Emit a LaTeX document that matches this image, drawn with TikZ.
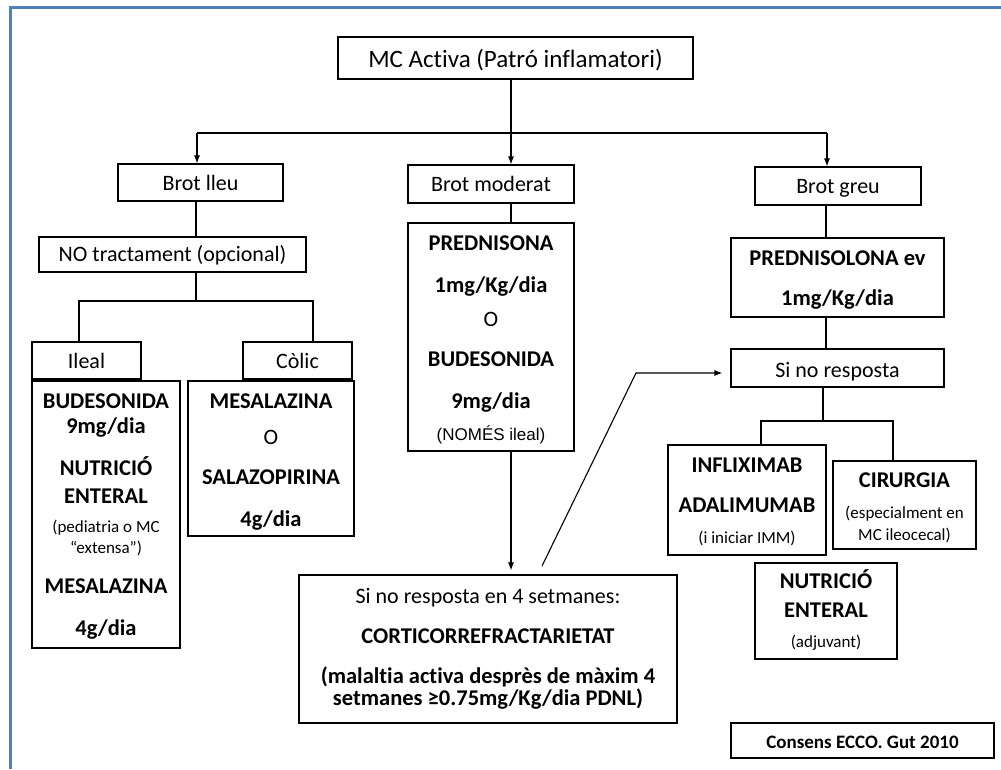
\documentclass[tikz,border=0pt]{standalone}
\usepackage{fontspec}
\setmainfont{Carlito}[Ligatures=NoCommon]
\newfontfamily\arialfont{Liberation Sans}
\usetikzlibrary{arrows.meta,calc}
\definecolor{frameblue}{RGB}{79,129,189}
\newcommand\rgf{\fontsize{22}{26}\selectfont}
\newcommand\ttl{\fontsize{25}{29}\selectfont}
\newcommand\bff{\fontsize{22.5}{27}\selectfont\bfseries}
\newcommand\smf{\fontsize{17}{20}\selectfont}
\begin{document}
\begin{tikzpicture}[x=1pt,y=-1pt,
  box/.style={draw, line width=1.1pt, inner sep=0pt},
  txt/.style={anchor=base, inner sep=0pt},
  conn/.style={line width=1.1pt},
  arr/.style={conn, -{Latex[length=8pt,width=6pt]}}]
\useasboundingbox (0,0) rectangle (1001,769);
\fill[white] (0,0) rectangle (1001,769);
\draw[frameblue, line width=3pt] (1001,7) -- (10,7) -- (10,769);

% boxes
\node[box, minimum width=355, minimum height=42] (top) at (515.5,58) {};
\node[box, minimum width=165, minimum height=37] (lleu) at (200.5,182.5) {};
\node[box, minimum width=166, minimum height=38] (mod) at (491,184) {};
\node[box, minimum width=166, minimum height=38] (greu) at (838,186) {};
\node[box, minimum width=267, minimum height=35] (no) at (172.5,254.5) {};
\node[box, minimum width=109, minimum height=37] (ileal) at (86.5,360.5) {};
\node[box, minimum width=109, minimum height=37] (colic) at (297.5,360.5) {};
\node[box, minimum width=148, minimum height=267] (budL) at (106,514.5) {};
\node[box, minimum width=166, minimum height=155] (mesa) at (271,458.5) {};
\node[box, minimum width=166, minimum height=228] (pred) at (491,337) {};
\node[box, minimum width=213, minimum height=79] (predl) at (837.5,277.5) {};
\node[box, minimum width=213, minimum height=38] (si) at (837.5,368) {};
\node[box, minimum width=158, minimum height=110] (inf) at (747,500) {};
\node[box, minimum width=143, minimum height=88] (cir) at (904.5,505) {};
\node[box, minimum width=142, minimum height=96] (nut) at (826,611) {};
\node[box, minimum width=378, minimum height=148] (bot) at (488,649) {};
\node[box, minimum width=263, minimum height=35] (foot) at (862.5,740.5) {};

% texts
\node[txt] (t0) at (515.5,67) {\ttl MC Activa (Patró inflamatori)};
\node[txt] (t1) at (200.5,190) {\rgf Brot lleu};
\node[txt] (t2) at (491,191) {\rgf Brot moderat};
\node[txt] (t3) at (838,193) {\rgf Brot greu};
\node[txt] (t4) at (172.5,261) {\rgf NO tractament (opcional)};
\node[txt] (t5) at (86.5,368) {\rgf Ileal};
\node[txt] (t6) at (297.5,368) {\rgf Còlic};

\node[txt] (l1) at (106,408) {\bff BUDESONIDA};
\node[txt] (l2) at (106,433) {\bff 9mg/dia};
\node[txt] (l3) at (106,475) {\bff NUTRICIÓ};
\node[txt] (l4) at (106,503) {\bff ENTERAL};
\node[txt] (l5) at (106,532) {\smf (pediatria o MC};
\node[txt] (l6) at (106,553) {\smf “extensa”)};
\node[txt] (l7) at (106,593) {\bff MESALAZINA};
\node[txt] (l8) at (106,635) {\bff 4g/dia};

\node[txt] (m1) at (271,408) {\bff MESALAZINA};
\node[txt] (m2) at (271,444) {\rgf O};
\node[txt] (m3) at (271,484) {\bff SALAZOPIRINA};
\node[txt] (m4) at (271,526) {\bff 4g/dia};

\node[txt] (p1) at (491,250) {\bff PREDNISONA};
\node[txt] (p2) at (491,292) {\bff 1mg/Kg/dia};
\node[txt] (p3) at (491,326) {\rgf O};
\node[txt] (p4) at (491,366) {\bff BUDESONIDA};
\node[txt] (p5) at (491,408) {\bff 9mg/dia};
\node[txt] (p6) at (491,440) {\arialfont\fontsize{17}{20}\selectfont (NOMÉS ileal)};

\node[txt] (r1) at (837.5,265) {\bff PREDNISOLONA ev};
\node[txt] (r2) at (837.5,305) {\bff 1mg/Kg/dia};
\node[txt] (r3) at (837.5,377) {\rgf Si no resposta};

\node[txt] (i1) at (747,472) {\bff INFLIXIMAB};
\node[txt] (i2) at (747,512) {\bff ADALIMUMAB};
\node[txt] (i3) at (747,543) {\smf (i iniciar IMM)};
\node[txt] (c1) at (904.5,487) {\bff CIRURGIA};
\node[txt] (c2) at (904.5,518) {\smf (especialment en};
\node[txt] (c3) at (904.5,540) {\smf MC ileocecal)};
\node[txt] (n1) at (826,588) {\bff NUTRICIÓ};
\node[txt] (n2) at (826,617) {\bff ENTERAL};
\node[txt] (n3) at (826,647) {\smf (adjuvant)};

\node[txt] (b1) at (488,603) {\rgf Si no resposta en 4 setmanes:};
\node[txt] (b2) at (488,643) {\bff CORTICORREFRACTARIETAT};
\node[txt] (b3) at (488,683) {\bff (malaltia activa desprès de màxim 4};
\node[txt] (b4) at (488,705) {\bff setmanes ≥0.75mg/Kg/dia PDNL)};

\node[txt] (f1) at (862.5,748) {\fontsize{19}{22}\selectfont\bfseries Consens ECCO. Gut 2010};

% connectors
\coordinate (xA) at (511,0);
\coordinate (jL) at (197,133);
\coordinate (jR) at (827,133);
\coordinate (xL) at (196,0);
\coordinate (xR) at (826,0);
\coordinate (xS) at (823,0);
\coordinate (hL1) at (79,301);
\coordinate (hL2) at (313,301);
\coordinate (hR1) at (761,421);
\coordinate (hR2) at (893,421);
\coordinate (d1) at (542,566);
\coordinate (d2) at (636,373);

\draw[arr] (top.south -| xA) -- (mod.north -| xA);
\draw[conn] (jL) -- (jR);
\draw[arr] (jL) -- (lleu.north -| jL);
\draw[arr] (jR) -- (greu.north -| jR);

\draw[conn] (lleu.south -| xL) -- (no.north -| xL);
\draw[conn] (no.south -| xL) -- (hL1 -| xL);
\draw[conn] (ileal.north -| hL1) -- (hL1) -- (hL2) -- (colic.north -| hL2);

\draw[conn] (mod.south -| xA) -- (pred.north -| xA);
\draw[arr, shorten >=4pt] (pred.south -| xA) -- (bot.north -| xA);

\draw[conn] (greu.south -| xR) -- (predl.north -| xR);
\draw[conn] (predl.south -| xR) -- (si.north -| xR);
\draw[conn] (si.south -| xS) -- (hR1 -| xS);
\draw[conn] (inf.north -| hR1) -- (hR1) -- (hR2) -- (cir.north -| hR2);

\draw[arr, shorten >=8pt] (d1) -- (d2) -- (si.west |- d2);
\end{tikzpicture}
\end{document}
